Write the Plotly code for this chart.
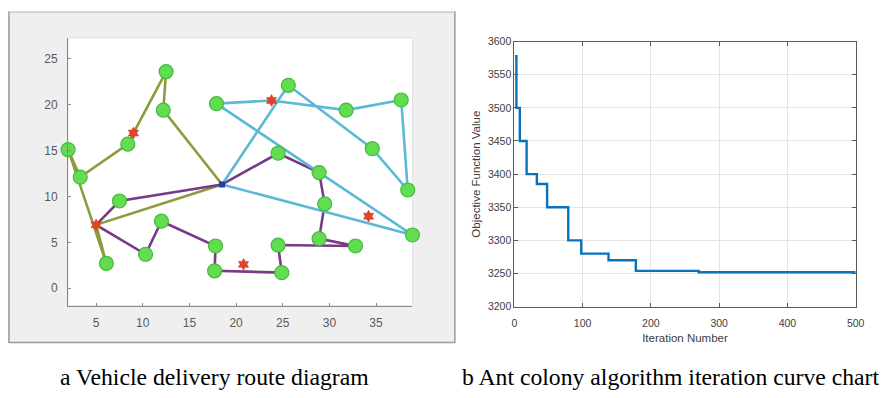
import plotly.graph_objects as go

W, H = 893, 398

# ---------------- data: route diagram ----------------
depot_x = [18.5]
depot_y = [11.3]

cust_x = [2.0, 3.3, 6.1, 8.4, 12.5, 12.2, 7.5, 10.3, 12.0, 17.8, 17.7, 24.9, 24.5,
          32.8, 28.9, 29.5, 28.9, 24.5, 17.9, 25.6, 31.8, 37.7, 34.6, 38.4, 38.9]
cust_y = [15.1, 12.1, 2.7, 15.7, 23.6, 19.4, 9.5, 3.7, 7.3, 4.6, 1.9, 1.7, 4.7,
          4.6, 5.4, 9.2, 12.6, 14.7, 20.1, 22.1, 19.4, 20.5, 15.2, 10.7, 5.8]

star_x = [9.0, 5.0, 23.8, 20.8, 34.2]
star_y = [16.9, 6.9, 20.45, 2.6, 7.85]

olive_x = [18.5, 5.0, 6.1, 2.0, 3.3, 8.4, 9.0, 12.5, 12.2, 18.5]
olive_y = [11.3, 6.9, 2.7, 15.1, 12.1, 15.7, 16.9, 23.6, 19.4, 11.3]

purple_x = [18.5, 24.5, 28.9, 29.5, 28.9, 32.8, 24.5, 24.9, 17.7, 17.8, 12.0, 10.3, 5.0, 7.5, 18.5]
purple_y = [11.3, 14.7, 12.6, 9.2, 5.4, 4.6, 4.7, 1.7, 1.9, 4.6, 7.3, 3.7, 6.9, 9.5, 11.3]

cyan_x = [18.5, 25.6, 34.6, 38.4, 37.7, 31.8, 23.8, 17.9, 38.9, 18.5]
cyan_y = [11.3, 22.1, 15.2, 10.7, 20.5, 19.4, 20.45, 20.1, 5.8, 11.3]

left_xticks = [5, 10, 15, 20, 25, 30, 35]
left_yticks = [0, 5, 10, 15, 20, 25]

# ---------------- data: iteration curve ----------------
iters = [1, 3, 8, 18, 33, 48, 79, 98, 138, 178, 270, 500]
best = [3578, 3500, 3450, 3400, 3385, 3350, 3300, 3280, 3270, 3254, 3252, 3252]
right_xticks = [0, 100, 200, 300, 400, 500]
right_yticks = [3200, 3250, 3300, 3350, 3400, 3450, 3500, 3550, 3600]

caption_a = "a Vehicle delivery route diagram"
caption_b = "b Ant colony algorithm iteration curve chart"

# ---------------- layout geometry (pixels) ----------------
def px(x):
    return x / W

def py(y):
    return 1 - y / H

L_x0, L_x1, L_y0, L_y1 = 66, 415, 33, 309
R_x0, R_x1, R_y0, R_y1 = 518.3, 864.3, 36.7, 310

fig = go.Figure()

line_w = 2.6
for xs, ys, col in [(olive_x, olive_y, "#8d9b3d"),
                    (purple_x, purple_y, "#773a87"),
                    (cyan_x, cyan_y, "#5cb9d6")]:
    fig.add_trace(go.Scatter(x=xs, y=ys, mode="lines",
                             line=dict(color=col, width=line_w),
                             xaxis="x", yaxis="y", showlegend=False, hoverinfo="skip"))

fig.add_trace(go.Scatter(x=cust_x, y=cust_y, mode="markers",
                         marker=dict(symbol="circle", size=14, color="#62dd52",
                                     line=dict(color="#44bb3a", width=1.2)),
                         cliponaxis=False, xaxis="x", yaxis="y", showlegend=False))
fig.add_trace(go.Scatter(x=star_x, y=star_y, mode="markers",
                         marker=dict(symbol="hexagram", size=9, color="#e0452a",
                                     line=dict(color="#d03a20", width=0.5)),
                         cliponaxis=False, xaxis="x", yaxis="y", showlegend=False))
fig.add_trace(go.Scatter(x=depot_x, y=depot_y, mode="markers",
                         marker=dict(symbol="square", size=6, color="#1e3fa8"),
                         cliponaxis=False, xaxis="x", yaxis="y", showlegend=False))

fig.add_trace(go.Scatter(x=iters, y=best, mode="lines", line_shape="hv",
                         line=dict(color="#0a72bd", width=2.4),
                         xaxis="x2", yaxis="y2", showlegend=False))

tickfont_l = dict(family="Liberation Sans, Arial, sans-serif", size=12, color="#5a5a5a")
tickfont_r = dict(family="Liberation Sans, Arial, sans-serif", size=10.5, color="#404040")

fig.update_layout(
    width=W, height=H,
    margin=dict(l=0, r=0, t=0, b=0),
    paper_bgcolor="white",
    plot_bgcolor="rgba(0,0,0,0)",
    xaxis=dict(domain=[px(L_x0), px(L_x1)], range=[2.0, 38.9], tickvals=left_xticks,
               showgrid=False, zeroline=False, showline=True, linecolor="#8a8a8a",
               linewidth=1, ticks="inside", ticklen=3, tickcolor="#8a8a8a",
               tickfont=tickfont_l, anchor="y", ticklabelstandoff=6),
    yaxis=dict(domain=[py(L_y1), py(L_y0)], range=[-1.9, 27.25], tickvals=left_yticks,
               showgrid=False, zeroline=False, showline=True, linecolor="#8a8a8a",
               linewidth=1, ticks="inside", ticklen=3, tickcolor="#8a8a8a",
               tickfont=tickfont_l, anchor="x", ticklabelstandoff=7),
    xaxis2=dict(domain=[px(R_x0), px(R_x1)], range=[0, 500], tickvals=right_xticks,
                showgrid=True, gridcolor="#e4e4e4", zeroline=False, showline=True,
                linecolor="#5a5a5a", linewidth=1, mirror="ticks", ticks="inside",
                ticklen=4, tickcolor="#5a5a5a", tickfont=tickfont_r, anchor="y2",
                ticklabelstandoff=7,
                title=dict(text="Iteration Number", standoff=5,
                           font=dict(family="Liberation Sans, Arial, sans-serif",
                                     size=11.5, color="#404040"))),
    yaxis2=dict(domain=[py(R_y1), py(R_y0)], range=[3200, 3600], tickvals=right_yticks,
                showgrid=True, gridcolor="#e4e4e4", zeroline=False, showline=True,
                linecolor="#5a5a5a", linewidth=1, mirror="ticks", ticks="inside",
                ticklen=4, tickcolor="#5a5a5a", tickfont=tickfont_r, anchor="x2",
                title=dict(text="Objective Function Value", standoff=4,
                           font=dict(family="Liberation Sans, Arial, sans-serif",
                                     size=11.5, color="#404040"))),
)

# gray figure frame of the left panel, then white plot area
fig.add_shape(type="rect", xref="paper", yref="paper",
              x0=px(6), x1=px(458), y0=py(347), y1=py(6),
              fillcolor="#efefef", line=dict(color="#9a9a9a", width=1.5), layer="below")
fig.add_shape(type="line", xref="paper", yref="paper",
              x0=px(6), x1=px(458), y0=py(6), y1=py(6),
              line=dict(color="#dadada", width=1.5), layer="below")
fig.add_shape(type="rect", xref="paper", yref="paper",
              x0=px(L_x0), x1=px(L_x1), y0=py(L_y1), y1=py(L_y0),
              fillcolor="white", line=dict(color="#e2e2e2", width=1), layer="below")
# white plot area of right panel
fig.add_shape(type="rect", xref="paper", yref="paper",
              x0=px(R_x0), x1=px(R_x1), y0=py(R_y1), y1=py(R_y0),
              fillcolor="white", line=dict(width=0), layer="below")

capfont = dict(family="Liberation Serif, Times New Roman, serif", size=23.7, color="black")
fig.add_annotation(text=caption_a, xref="paper", yref="paper", x=px(214.5), y=py(383),
                   showarrow=False, font=capfont, xanchor="center", yanchor="middle")
fig.add_annotation(text=caption_b, xref="paper", yref="paper", x=px(677), y=py(383),
                   showarrow=False, font=capfont, xanchor="center", yanchor="middle")

fig.write_html("out.html")
